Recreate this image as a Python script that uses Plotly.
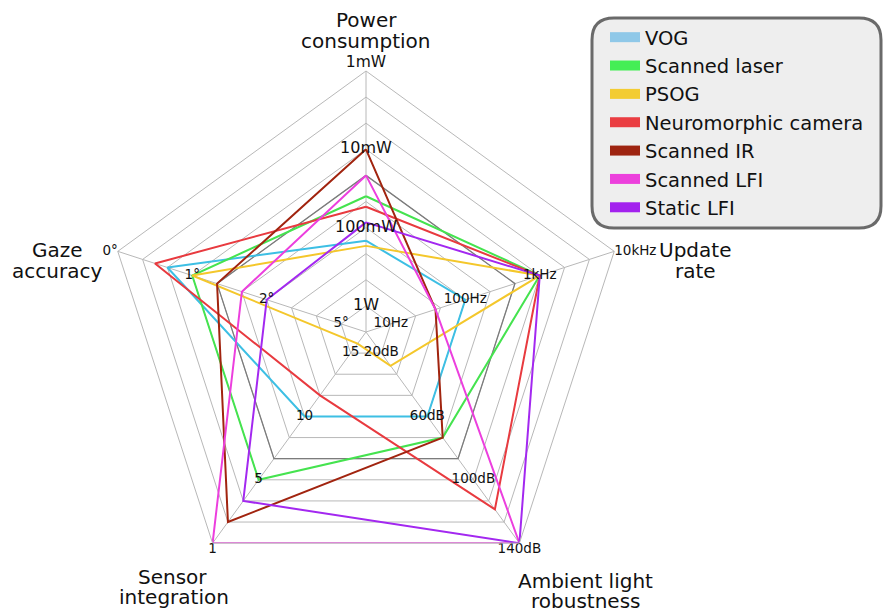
import plotly.graph_objects as go

# ---------------- data ----------------
axes = ["Power consumption", "Update rate", "Ambient light robustness",
        "Sensor integration", "Gaze accuracy"]

series_names = ["VOG", "Scanned laser", "PSOG", "Neuromorphic camera",
                "Scanned IR", "Scanned LFI", "Static LFI"]

# normalised scores (0-10) on [power, update, ambient, sensor, gaze]
vog = [3.5, 4, 4, 4, 8]
scanned_laser = [5.2, 7, 5, 7, 7]
psog = [3.3, 7, 1.6, 0.55, 7]
neuromorphic = [4.8, 7, 8.4, 3, 8.5]
scanned_ir = [7, 2.8, 5, 9, 6]
scanned_lfi = [6, 2.8, 10, 10, 5]
static_lfi = [4.2, 7, 10, 8, 4]
reference_ring = [6, 6, 6, 6, 6]

series_values = [vog, scanned_laser, psog, neuromorphic, scanned_ir,
                 scanned_lfi, static_lfi]

line_colors = ["#3dbfe4", "#45e34f", "#f4c72b", "#e83a3f", "#a1240f",
               "#ec3fde", "#a328f0"]
swatch_colors = ["#8fc8e8", "#44ee55", "#f3cc32", "#ea3d42", "#9e2410",
                 "#ec40dc", "#a322ee"]

tick_positions = [1, 4, 7, 10]
power_ticks = ["1W", "100mW", "10mW", "1mW"]
update_ticks = ["10Hz", "100Hz", "1kHz", "10kHz"]
ambient_ticks = ["20dB", "60dB", "100dB", "140dB"]
sensor_ticks = ["15", "10", "5", "1"]
gaze_ticks = ["5°", "2°", "1°", "0°"]
axis_ticks = [power_ticks, update_ticks, ambient_ticks, sensor_ticks, gaze_ticks]

FONT = "DejaVu Sans"
W, H = 884, 612

fig = go.Figure()

# highlighted ring
fig.add_trace(go.Scatterpolar(
    r=reference_ring + reference_ring[:1], theta=axes + axes[:1],
    mode="lines", line=dict(color="#7c7c7c", width=1.3),
    showlegend=False, hoverinfo="skip"))

# series
for name, vals, col in zip(series_names, series_values, line_colors):
    fig.add_trace(go.Scatterpolar(
        r=vals + vals[:1], theta=axes + axes[:1], mode="lines",
        line=dict(color=col, width=2), name=name, showlegend=False))

# legend-only swatches
for name, col in zip(series_names, swatch_colors):
    fig.add_trace(go.Scatterpolar(
        r=[None], theta=[None], mode="lines",
        line=dict(color=col, width=10), name=name, showlegend=True))

# centre circle
fig.add_trace(go.Scatterpolar(
    r=[0], theta=[axes[0]], mode="markers",
    marker=dict(symbol="circle", size=12, color="white",
                line=dict(color="#b4b4b4", width=1.2)),
    showlegend=False, hoverinfo="skip"))

# per-axis tick labels
outer_pos = ["top center", "middle right", "bottom center", "bottom center",
             "middle left"]
for i, (ax_name, labels) in enumerate(zip(axes, axis_ticks)):
    size = 16 if i == 0 else 13.5
    fig.add_trace(go.Scatterpolar(
        r=tick_positions[:3], theta=[ax_name] * 3, mode="text",
        text=labels[:3], textposition="middle center",
        textfont=dict(family=FONT, size=size, color="#111111"),
        showlegend=False, hoverinfo="skip", cliponaxis=False))
    fig.add_trace(go.Scatterpolar(
        r=tick_positions[3:], theta=[ax_name], mode="text",
        text=labels[3:], textposition=outer_pos[i],
        textfont=dict(family=FONT, size=15.5 if i == 0 else size,
                      color="#111111"),
        showlegend=False, hoverinfo="skip", cliponaxis=False))

cx, cy, R = 366, 332, 261
fig.update_layout(
    width=W, height=H,
    margin=dict(l=0, r=0, t=0, b=0),
    paper_bgcolor="white",
    font=dict(family=FONT, color="#111111"),
    polar=dict(
        domain=dict(x=[(cx - R) / W, (cx + R) / W],
                    y=[(H - cy - R) / H, (H - cy + R) / H]),
        bgcolor="white",
        gridshape="linear",
        radialaxis=dict(range=[0, 10], dtick=1, tick0=0, showticklabels=False,
                        ticks="", showline=False, gridcolor="#b8b8b8",
                        gridwidth=1),
        angularaxis=dict(type="category", categoryarray=axes,
                         rotation=90, direction="clockwise",
                         showticklabels=False, ticks="",
                         gridcolor="#b8b8b8", gridwidth=1,
                         showline=True, linecolor="#b8b8b8", linewidth=1),
    ),
    legend=dict(x=605 / W, y=1 - 18 / H, xanchor="left", yanchor="top",
                bgcolor="rgba(0,0,0,0)", borderwidth=0,
                font=dict(family=FONT, size=19.5, color="#111111"),
                itemwidth=30),
    showlegend=True,
)

# rounded legend frame
x0, x1, y0, y1 = 592 / W, 881 / W, 1 - 228 / H, 1 - 18 / H
rx, ry = 22 / W, 22 / H
path = (f"M{x0 + rx},{y1} L{x1 - rx},{y1} Q{x1},{y1} {x1},{y1 - ry} "
        f"L{x1},{y0 + ry} Q{x1},{y0} {x1 - rx},{y0} L{x0 + rx},{y0} "
        f"Q{x0},{y0} {x0},{y0 + ry} L{x0},{y1 - ry} Q{x0},{y1} {x0 + rx},{y1} Z")
fig.add_shape(type="path", path=path, xref="paper", yref="paper",
              fillcolor="#eeeeee", line=dict(color="#6a6a6a", width=3),
              layer="below")

# axis titles (one annotation per line)
titles = [
    ("Power", 366, 20), ("consumption", 366, 41),
    ("Update", 695, 250), ("rate", 695, 271),
    ("Ambient light", 585, 581), ("robustness", 585, 601),
    ("Sensor", 172, 577), ("integration", 174, 597),
    ("Gaze", 57, 250), ("accuracy", 57, 271),
]
for txt, x, y in titles:
    fig.add_annotation(text=txt, x=x / W, y=1 - y / H, xref="paper",
                       yref="paper", showarrow=False, xanchor="center",
                       yanchor="middle",
                       font=dict(family=FONT, size=20, color="#111111"))

fig.write_html("out.html", config={"displayModeBar": False},
               post_script="document.body.style.margin='0';")
